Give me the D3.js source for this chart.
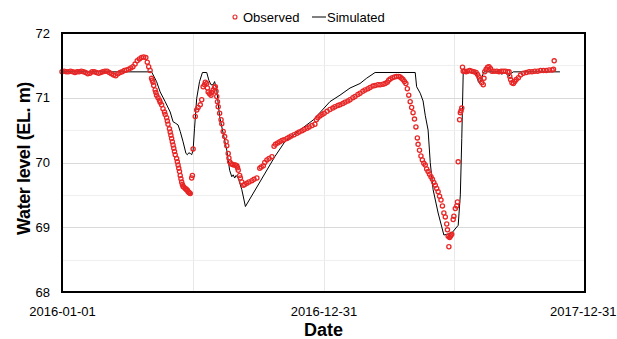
<!DOCTYPE html>
<html>
<head>
<meta charset="utf-8">
<script src="https://cdn.jsdelivr.net/npm/d3@7"></script>
<style>
body { margin: 0; background: #fff; }
text { font-family: "Liberation Sans", Arial, sans-serif; }
</style>
</head>
<body>
<div id="chart"></div>
<script>
// day offsets from startDate, water level (EL. m)
const startDate = "2016-01-01";
const xTickLabels = ["2016-01-01", "2016-12-31", "2017-12-31"];
const yTicks = [68, 69, 70, 71, 72];

const obsPoints = [
  [0,71.40],[3,71.41],[6,71.40],[9,71.40],[12,71.41],[15,71.40],[18,71.39],[21,71.40],[24,71.40],[27,71.41],
  [30,71.40],[33,71.39],[36,71.37],[39,71.38],[42,71.40],[45,71.40],[48,71.39],[51,71.38],[54,71.39],[57,71.40],
  [60,71.41],[63,71.41],[66,71.39],[69,71.37],[72,71.35],[75,71.34],[78,71.37],[81,71.39],[84,71.40],[87,71.42],
  [90,71.43],[93,71.44],[96,71.46],[99,71.48],[102,71.52],[105,71.57],[108,71.60],[111,71.62],[114,71.63],[117,71.62],
  [119,71.55],[121,71.48],[123,71.42],
  [125,71.30],[126,71.27],[127,71.24],[128,71.19],[130,71.12],[131,71.08],[132,71.04],[134,71.00],[136,70.96],[137,70.93],
  [139,70.89],[141,70.83],[143,70.78],[144,70.74],[146,70.69],[147,70.64],[148,70.59],[150,70.52],[151,70.47],[152,70.42],
  [153,70.37],[154,70.32],[155,70.27],[156,70.22],[157,70.17],[158,70.12],[160,70.06],[161,70.01],[162,69.96],[163,69.91],
  [164,69.86],[165,69.80],[166,69.75],[167,69.70],[168,69.66],[169,69.63],[170,69.62],[172,69.60],[173,69.59],[174,69.58],
  [175,69.57],[176,69.55],[177,69.54],[178,69.53],[179,69.52],[181,69.76],[182,69.80],[183,70.21],[186,70.71],[188,70.81],
  [190,70.85],[193,70.89],[195,70.97],[197,71.17],[199,71.20],[200,71.24],[202,71.22],[203,71.15],[204,71.09],[206,71.06],
  [208,71.04],[209,71.08],[211,71.12],[213,71.16],[214,71.17],[215,71.10],[216,71.02],[217,70.94],[218,70.86],[220,70.76],
  [222,70.66],[223,70.60],[225,70.48],[227,70.40],[229,70.32],[230,70.26],[232,70.14],[233,70.07],[234,70.01],[236,69.98],
  [238,69.97],[240,69.96],[242,69.96],[244,69.95],[245,69.92],[246,69.88],[248,69.80],[249,69.76],[251,69.70],[253,69.65],
  [255,69.66],[258,69.68],[261,69.70],[265,69.72],[268,69.74],[272,69.76],[276,69.91],[278,69.93],[281,69.95],[283,70.00],
  [286,70.04],[289,70.06],[293,70.09],[296,70.25],[298,70.28],[301,70.30],[304,70.32],[307,70.34],[310,70.35],[314,70.37],
  [317,70.39],[320,70.41],[324,70.43],[328,70.45],[331,70.47],[335,70.49],[338,70.51],[342,70.53],[345,70.55],[349,70.57],
  [353,70.59],[355,70.66],[357,70.69],[360,70.72],[363,70.74],[366,70.76],[370,70.79],[374,70.82],[378,70.84],[381,70.86],
  [385,70.88],[388,70.89],[392,70.91],[395,70.93],[399,70.95],[402,70.97],[406,71.00],[409,71.02],[413,71.05],[416,71.07],
  [420,71.10],[423,71.12],[427,71.14],[430,71.16],[434,71.18],[437,71.19],[441,71.20],[444,71.20],[448,71.21],[451,71.22],
  [454,71.24],[456,71.27],[458,71.29],[461,71.31],[464,71.32],[467,71.33],[470,71.33],[472,71.32],[474,71.30],[476,71.28],
  [478,71.25],[480,71.22],[482,71.14],[484,71.04],[486,70.94],[488,70.85],[490,70.77],[492,70.67],[494,70.55],[496,70.38],
  [497,70.28],[499,70.19],[501,70.10],[503,70.04],[505,69.99],[507,69.96],[509,69.90],[511,69.86],[513,69.82],[515,69.78],
  [517,69.74],[519,69.69],[521,69.65],[523,69.60],[525,69.55],[527,69.48],[529,69.42],[531,69.33],[533,69.22],[535,69.16],
  [537,69.05],[538,68.96],[539,68.86],[540,68.70],[541,68.84],[542,68.86],[543,68.88],[544,68.89],[546,69.12],[547,69.17],
  [549,69.29],[551,69.33],[552,69.39],[553,70.01],[555,70.66],[556,70.77],[557,70.80],[558,70.84],[559,71.47],[560,71.41],
  [562,71.41],[564,71.40],[566,71.41],[569,71.42],[572,71.41],[575,71.40],[578,71.39],[580,71.36],[582,71.32],[584,71.28],
  [586,71.23],[588,71.20],[589,71.30],[590,71.40],[592,71.44],[594,71.47],[596,71.48],[598,71.45],[600,71.41],[603,71.41],
  [607,71.41],[610,71.40],[613,71.41],[616,71.41],[619,71.41],[622,71.40],[624,71.40],[625,71.33],[626,71.28],[628,71.23],
  [630,71.22],[632,71.25],[634,71.28],[637,71.31],[640,71.35],[644,71.38],[648,71.39],[652,71.40],[656,71.40],[660,71.41],
  [664,71.41],[668,71.42],[672,71.42],[676,71.42],[680,71.43],[684,71.43],[686,71.44],[687,71.57]
];

const simPoints = [
  [0,71.40],[125,71.40],[132,71.25],[137,71.09],[144,70.94],[151,70.78],[155,70.63],[158,70.61],[162,70.58],[165,70.48],
  [169,70.32],[173,70.14],[175,70.12],[177,70.15],[179,70.14],[181,70.12],[183,70.19],[185,70.53],[188,70.99],[192,71.25],
  [196,71.39],[202,71.39],[205,71.27],[208,71.20],[211,71.20],[213,71.25],[216,71.12],[218,70.91],[220,70.71],[225,70.45],
  [230,70.19],[234,69.88],[237,69.78],[239,69.81],[241,69.76],[243,69.80],[246,69.76],[251,69.58],[256,69.32],[297,70.09],
  [311,70.32],[332,70.50],[351,70.66],[374,70.94],[388,71.04],[402,71.15],[416,71.22],[425,71.30],[437,71.39],[493,71.39],
  [495,71.17],[500,71.07],[504,70.95],[507,70.73],[511,70.50],[514,70.00],[518,69.58],[525,69.22],[533,68.88],[544,68.91],
  [553,69.03],[556,69.50],[558,70.37],[560,71.38],[578,71.40],[581,71.25],[583,71.22],[586,71.32],[589,71.40],[612,71.40],
  [614,71.36],[616,71.40],[620,71.37],[624,71.33],[626,71.37],[630,71.40],[695,71.40]
];

var width = 617, height = 339;
var margin = {top: 33, right: 32, bottom: 47, left: 62};
var plotW = width - margin.left - margin.right;
var plotH = height - margin.top - margin.bottom;

var t0 = d3.utcParse("%Y-%m-%d")(startDate);
function dayToDate(d) { return d3.utcDay.offset(t0, d); }

var labelDates = xTickLabels.map(d3.utcParse("%Y-%m-%d"));
var x = d3.scaleUtc()
    .domain([labelDates[0], labelDates[labelDates.length - 1]])
    .range([margin.left, margin.left + plotW]);
var y = d3.scaleLinear()
    .domain([yTicks[0], yTicks[yTicks.length - 1]])
    .range([margin.top + plotH, margin.top]);

var svg = d3.select("#chart").append("svg")
    .attr("width", width)
    .attr("height", height);

// grid: vertical lines at the labels and halfway between
var gridDates = [];
labelDates.forEach(function(d, i) {
    gridDates.push(d);
    if (i < labelDates.length - 1) {
        gridDates.push(new Date((d.getTime() + labelDates[i + 1].getTime()) / 2));
    }
});
svg.append("g").selectAll("line")
    .data(gridDates)
    .enter().append("line")
    .attr("x1", function(d) { return Math.round(x(d)) + 0.5; })
    .attr("x2", function(d) { return Math.round(x(d)) + 0.5; })
    .attr("y1", margin.top)
    .attr("y2", margin.top + plotH)
    .attr("stroke", "#e8e8e8")
    .attr("stroke-width", 1);

var yGrid = d3.range(yTicks[0], yTicks[yTicks.length - 1] + 0.01, 0.5);
svg.append("g").selectAll("line")
    .data(yGrid)
    .enter().append("line")
    .attr("x1", margin.left)
    .attr("x2", margin.left + plotW)
    .attr("y1", function(d) { return Math.round(y(d)) + 0.5; })
    .attr("y2", function(d) { return Math.round(y(d)) + 0.5; })
    .attr("stroke", function(d) { return d % 1 === 0 ? "#d9d9d9" : "#efefef"; })
    .attr("stroke-width", 1);

// simulated line
var line = d3.line()
    .x(function(d) { return x(dayToDate(d[0])); })
    .y(function(d) { return y(d[1]); });

svg.append("path")
    .datum(simPoints)
    .attr("d", line)
    .attr("fill", "none")
    .attr("stroke", "#000")
    .attr("stroke-width", 1);

// observed circles
svg.append("g").selectAll("circle")
    .data(obsPoints)
    .enter().append("circle")
    .attr("cx", function(d) { return x(dayToDate(d[0])); })
    .attr("cy", function(d) { return y(d[1]); })
    .attr("r", 2.1)
    .attr("fill", "none")
    .attr("stroke", "#e82626")
    .attr("stroke-width", 1.3);

// frame
svg.append("rect")
    .attr("x", margin.left)
    .attr("y", margin.top)
    .attr("width", plotW)
    .attr("height", plotH)
    .attr("fill", "none")
    .attr("stroke", "#000")
    .attr("stroke-width", 2);

// axes (labels only)
var xAxis = d3.axisBottom(x)
    .tickValues(labelDates)
    .tickSize(0)
    .tickPadding(15)
    .tickFormat(d3.utcFormat("%Y-%m-%d"));
var gx = svg.append("g")
    .attr("transform", "translate(0," + (margin.top + plotH) + ")")
    .call(xAxis);
gx.select(".domain").remove();
gx.selectAll("text").attr("font-size", 13).attr("fill", "#000")
    .style("font-family", "'Liberation Sans', Arial, sans-serif");
// last label would run past the window edge, pin it to the edge
gx.selectAll(".tick").filter(function(d, i) { return i === labelDates.length - 1; })
    .select("text")
    .attr("text-anchor", "end")
    .attr("x", width - 1 - x(labelDates[labelDates.length - 1]));

var yAxis = d3.axisLeft(y)
    .tickValues(yTicks)
    .tickSize(0)
    .tickPadding(12)
    .tickFormat(d3.format("d"));
var gy = svg.append("g")
    .attr("transform", "translate(" + margin.left + ",0)")
    .call(yAxis);
gy.select(".domain").remove();
gy.selectAll("text").attr("font-size", 13).attr("fill", "#000")
    .style("font-family", "'Liberation Sans', Arial, sans-serif");

// axis titles
svg.append("text")
    .attr("x", margin.left + plotW / 2)
    .attr("y", 336)
    .attr("text-anchor", "middle")
    .attr("font-size", 18)
    .attr("font-weight", "bold")
    .text("Date");

svg.append("text")
    .attr("transform", "translate(30," + (margin.top + plotH / 2 - 4) + ") rotate(-90)")
    .attr("text-anchor", "middle")
    .attr("font-size", 18)
    .attr("font-weight", "bold")
    .attr("letter-spacing", -0.4)
    .text("Water level (EL. m)");

// legend
var legend = svg.append("g").attr("transform", "translate(0,17)");
legend.append("circle")
    .attr("cx", 235).attr("cy", 0).attr("r", 2)
    .attr("fill", "none").attr("stroke", "#e82626").attr("stroke-width", 1.1);
legend.append("text")
    .attr("x", 243).attr("y", 4.5)
    .attr("font-size", 13)
    .text("Observed");
legend.append("line")
    .attr("x1", 312).attr("x2", 326).attr("y1", 0).attr("y2", 0)
    .attr("stroke", "#000").attr("stroke-width", 1);
legend.append("text")
    .attr("x", 327).attr("y", 4.5)
    .attr("font-size", 13)
    .text("Simulated");
</script>
</body>
</html>
